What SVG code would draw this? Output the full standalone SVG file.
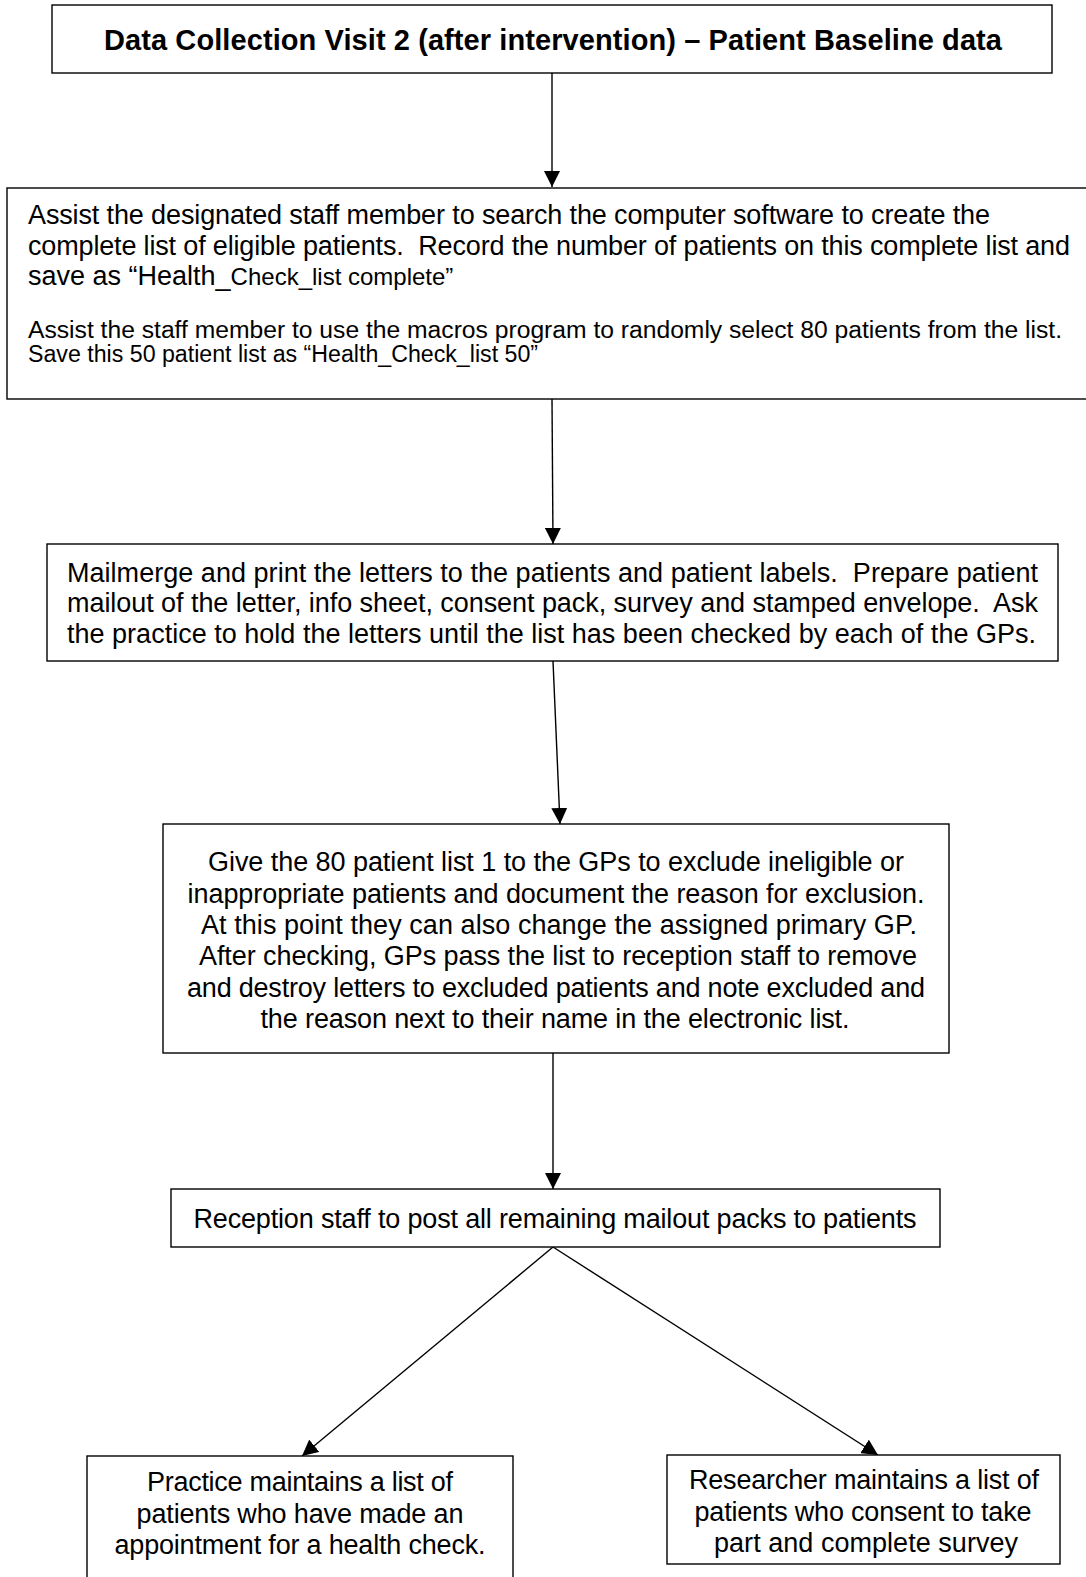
<svg xmlns="http://www.w3.org/2000/svg" width="1086" height="1577" viewBox="0 0 1086 1577">
  <style>
    .box { fill: #ffffff; stroke: #000000; stroke-width: 1.4; }
    .t { font-family: "Liberation Sans", Arial, sans-serif; font-size: 27px; fill: #000000; }
    .tc { text-anchor: middle; }
    .small { font-size: 24px; }
    .note { font-size: 23px; }
    .title { font-weight: bold; font-size: 29px; }
    .conn { stroke: #000000; stroke-width: 1.4; fill: none; }
  </style>
  <defs>
    <marker id="arrow" viewBox="0 0 16 16" refX="16" refY="8" markerWidth="16" markerHeight="16" markerUnits="userSpaceOnUse" orient="auto">
      <path d="M0,0 L16,8 L0,16 Z" fill="#000000"/>
    </marker>
  </defs>
  <rect width="1086" height="1577" fill="#ffffff"/>

  <g id="connectors">
    <line class="conn" x1="552" y1="73" x2="552" y2="187" marker-end="url(#arrow)"/>
    <line class="conn" x1="552" y1="399" x2="553" y2="544" marker-end="url(#arrow)"/>
    <line class="conn" x1="553" y1="661" x2="560" y2="824" marker-end="url(#arrow)"/>
    <line class="conn" x1="553" y1="1053" x2="553" y2="1189" marker-end="url(#arrow)"/>
    <line class="conn" x1="553" y1="1247" x2="302" y2="1456" marker-end="url(#arrow)"/>
    <line class="conn" x1="553" y1="1247" x2="878" y2="1455" marker-end="url(#arrow)"/>
  </g>

  <g id="node-visit2">
    <rect class="box" x="52" y="5" width="1000" height="68"/>
    <text class="t title tc" x="553" y="50" textLength="898" lengthAdjust="spacing">Data Collection Visit 2 (after intervention) – Patient Baseline data</text>
  </g>

  <g id="node-search">
    <rect class="box" x="7" y="188" width="1090" height="211"/>
    <text class="t" x="28" y="224" textLength="962" lengthAdjust="spacing">Assist the designated staff member to search the computer software to create the</text>
    <text class="t" x="28" y="255" xml:space="preserve" textLength="1042" lengthAdjust="spacing">complete list of eligible patients.  Record the number of patients on this complete list and</text>
    <text class="t" x="28" y="285">save as “Health_<tspan class="small">Check_list complete”</tspan></text>
    <text class="t note" x="28" y="338" textLength="1034" lengthAdjust="spacingAndGlyphs">Assist the staff member to use the macros program to randomly select 80 patients from the list.</text>
    <text class="t note" x="28" y="362" textLength="510" lengthAdjust="spacingAndGlyphs">Save this 50 patient list as “Health_Check_list 50”</text>
  </g>

  <g id="node-mailmerge">
    <rect class="box" x="47" y="544" width="1011" height="117"/>
    <text class="t" x="67" y="582" xml:space="preserve" textLength="971" lengthAdjust="spacing">Mailmerge and print the letters to the patients and patient labels.  Prepare patient</text>
    <text class="t" x="67" y="612" xml:space="preserve" textLength="971" lengthAdjust="spacing">mailout of the letter, info sheet, consent pack, survey and stamped envelope.  Ask</text>
    <text class="t" x="67" y="643" textLength="969" lengthAdjust="spacing">the practice to hold the letters until the list has been checked by each of the GPs.</text>
  </g>

  <g id="node-gp-check">
    <rect class="box" x="163" y="824" width="786" height="229"/>
    <text class="t tc" x="556" y="871" textLength="696" lengthAdjust="spacing">Give the 80 patient list 1 to the GPs to exclude ineligible or</text>
    <text class="t tc" x="556" y="903" textLength="737" lengthAdjust="spacing">inappropriate patients and document the reason for exclusion.</text>
    <text class="t tc" x="559" y="934" textLength="716" lengthAdjust="spacing">At this point they can also change the assigned primary GP.</text>
    <text class="t tc" x="558" y="965" textLength="718" lengthAdjust="spacing">After checking, GPs pass the list to reception staff to remove</text>
    <text class="t tc" x="556" y="997" textLength="738" lengthAdjust="spacing">and destroy letters to excluded patients and note excluded and</text>
    <text class="t tc" x="555" y="1028" textLength="589" lengthAdjust="spacing">the reason next to their name in the electronic list.</text>
  </g>

  <g id="node-post">
    <rect class="box" x="171" y="1189" width="769" height="58"/>
    <text class="t tc" x="555" y="1228" textLength="723" lengthAdjust="spacing">Reception staff to post all remaining mailout packs to patients</text>
  </g>

  <g id="node-practice-list">
    <rect class="box" x="87" y="1456" width="426" height="130"/>
    <text class="t tc" x="300" y="1491" textLength="306" lengthAdjust="spacing">Practice maintains a list of</text>
    <text class="t tc" x="300" y="1523" textLength="327" lengthAdjust="spacing">patients who have made an</text>
    <text class="t tc" x="300" y="1554" textLength="371" lengthAdjust="spacing">appointment for a health check.</text>
  </g>

  <g id="node-researcher-list">
    <rect class="box" x="667" y="1455" width="393" height="109"/>
    <text class="t tc" x="864" y="1489" textLength="350" lengthAdjust="spacing">Researcher maintains a list of</text>
    <text class="t tc" x="863" y="1521" textLength="337" lengthAdjust="spacing">patients who consent to take</text>
    <text class="t tc" x="866" y="1552" textLength="304" lengthAdjust="spacing">part and complete survey</text>
  </g>
</svg>
